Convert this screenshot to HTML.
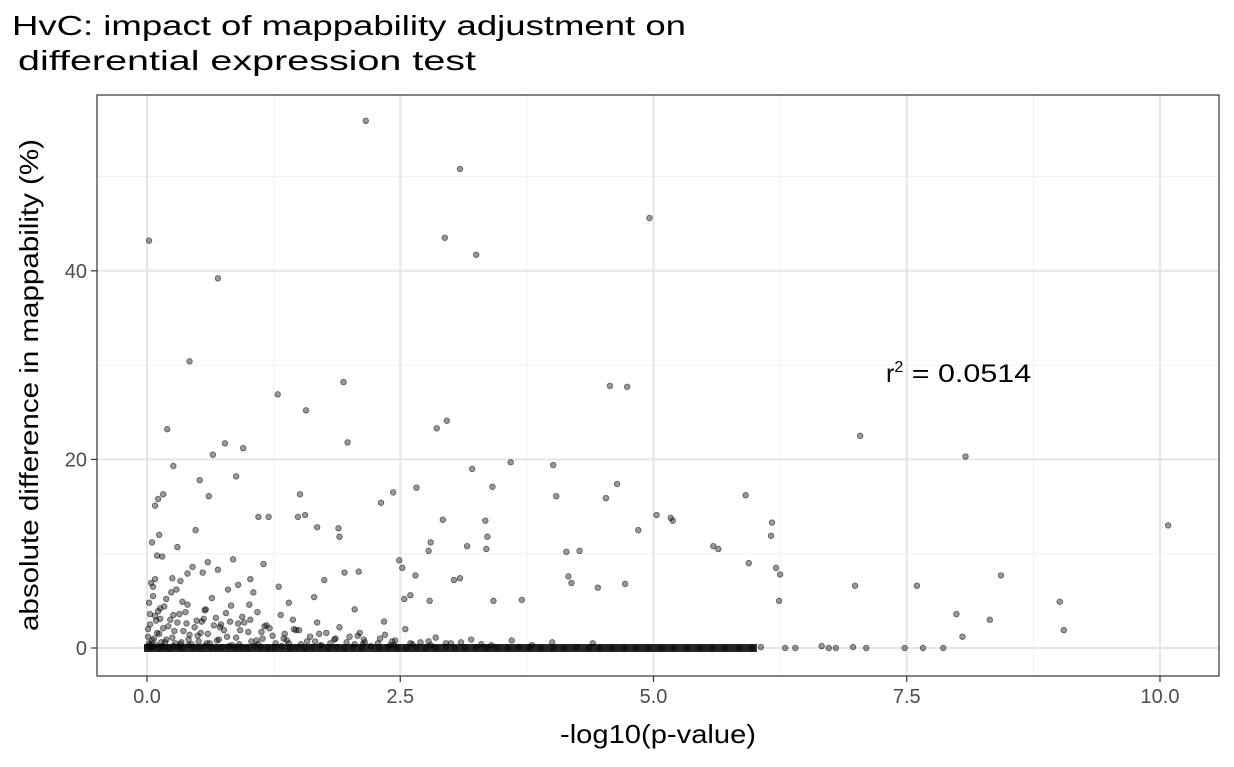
<!DOCTYPE html>
<html><head><meta charset="utf-8"><style>
body{margin:0;background:#fff;font-family:"Liberation Sans",Arial,sans-serif}
svg text{font-family:"Liberation Sans",Arial,sans-serif}
</style></head><body>
<svg id="chart" width="1234" height="762">
<text x="12" y="35" font-size="28" textLength="674" lengthAdjust="spacingAndGlyphs" fill="#000">HvC: impact of mappability adjustment on</text>
<text x="18" y="70" font-size="28" textLength="458" lengthAdjust="spacingAndGlyphs" fill="#000">differential expression test</text>
<g id="grid"></g>
<g id="pts"></g>
<rect x="97" y="95" width="1122" height="581" fill="none" stroke="#333" stroke-width="1.2"/>
<g id="axes"></g>
<text x="560" y="743" font-size="26" textLength="196" lengthAdjust="spacingAndGlyphs">-log10(p-value)</text>
<text transform="translate(38,631) rotate(-90)" font-size="26" textLength="492" lengthAdjust="spacingAndGlyphs">absolute difference in mappability (%)</text>
<text x="886" y="382" font-size="25">r<tspan dy="-10" font-size="16">2</tspan><tspan dy="10" textLength="128" lengthAdjust="spacingAndGlyphs"> = 0.0514</tspan></text>
</svg>
<script>
const xTicks=[0,2.5,5,7.5,10];
const xTickLabels=["0.0","2.5","5.0","7.5","10.0"];
const yTicks=[0,20,40];
const yTickLabels=["0","20","40"];
const outX=[2.16,3.09,4.96,0.02,2.94,3.25,0.70,0.42,1.29,1.94,1.57,2.96,2.86,1.98,0.77,0.95,0.65,0.20,0.26,3.59,3.21,4.01,4.57,4.74,7.04,8.08,10.08,0.52,0.11,0.16,1.51,2.43,2.66,3.41,4.04,4.53,4.64,5.17,5.19,5.03,5.91,6.17,6.16,5.59,5.64,4.27,4.14,3.34,3.36,3.16,3.35,2.92,2.80,2.78,2.31,1.89,1.90,1.68,1.49,1.56,1.10,1.20,0.61,0.48,0.08,0.88,4.85,5.94,6.21,6.25,6.24,6.99,7.60,8.43,7.99,8.05,8.32,9.01,9.05,4.72,4.45,4.16,4.19,3.70,3.42,1.95,2.09,2.49,2.52,2.65,3.03,3.09,2.79,2.54,2.34,0.05,0.10,0.30,0.55,0.85,1.02,1.15,0.33,0.60,0.90,1.40,1.75,2.05,2.60,0.12,0.40,0.70,1.30,1.65,0.04,0.15,0.25,0.45,0.80,1.05];
const outY=[55.9,50.8,45.6,43.2,43.5,41.7,39.2,30.4,26.9,28.2,25.2,24.1,23.3,21.8,21.7,21.2,20.5,23.2,19.3,19.7,19.0,19.4,27.8,27.7,22.5,20.3,13.0,17.8,15.8,16.3,16.3,16.5,17.0,17.1,16.1,15.9,17.4,13.8,13.5,14.1,16.2,13.3,11.9,10.8,10.5,10.3,10.2,13.5,11.8,10.8,10.5,13.6,11.2,10.3,15.4,12.7,11.8,12.8,13.9,14.1,13.9,13.9,16.1,12.5,15.1,18.2,12.5,9.0,8.5,7.8,5.0,6.6,6.6,7.7,3.6,1.2,3.0,4.9,1.9,6.8,6.4,7.6,6.9,5.1,5.0,8.0,8.1,9.3,8.5,7.7,7.2,7.4,5.0,5.2,2.8,11.2,9.8,10.7,8.0,9.4,7.3,8.9,7.1,9.1,6.7,4.8,7.2,4.1,5.6,12.0,7.9,8.3,6.5,5.4,6.9,9.7,7.4,8.6,6.2,5.9];
const bandX=[0.00,0.02,0.04,0.06,0.09,0.12,0.15,0.18,0.22,0.26,0.31,0.35,0.41,0.46,0.52,0.57,0.63,0.69,0.74,0.81,0.87,0.93,0.99,1.06,1.12,1.19,1.26,1.33,1.41,1.48,1.56,1.63,1.71,1.79,1.87,1.95,2.03,2.12,2.21,2.29,2.38,2.47,2.56,2.66,2.75,2.85,2.95,3.04,3.14,3.25,3.35,3.46,3.56,3.67,3.78,3.89,4.01,4.12,4.24,4.36,4.47,4.59,4.71,4.83,4.95,5.08,5.20,5.33,5.46,5.58,5.71,5.84,5.97,6.06,6.30,6.40,6.66,6.73,6.80,6.97,7.10,7.48,7.66,7.86];
const bandY=[0.1,0.2,0.0,0.1,0.3,0.0,0.2,0.1,0.0,0.2,0.1,0.0,0.3,0.1,0.0,0.2,0.1,0.0,0.1,0.2,0.0,0.1,0.0,0.2,0.1,0.0,0.1,0.2,0.0,0.1,0.0,0.1,0.2,0.0,0.1,0.0,0.1,0.0,0.2,0.0,0.1,0.0,0.0,0.1,0.0,0.0,0.1,0.0,0.0,0.1,0.0,0.0,0.0,0.1,0.0,0.0,0.0,0.0,0.1,0.0,0.0,0.0,0.0,0.0,0.0,0.0,0.0,0.0,0.0,0.0,0.0,0.0,0.0,0.1,0.0,0.0,0.2,0.0,0.0,0.1,0.0,0.0,0.0,0.0];
const blobX=[0.01,0.03,0.05,0.08,0.10,0.13,0.16,0.19,0.23,0.27,0.30,0.34,0.38,0.42,0.47,0.51,0.56,0.60,0.66,0.71,0.76,0.82,0.88,0.94,1.00,1.08,1.16,1.24,1.35,1.45,1.58,1.70,1.85,2.00,2.15,2.30,2.45,2.60,2.78,2.95,3.10,3.30,0.02,0.06,0.11,0.17,0.24,0.32,0.40,0.49,0.58,0.68,0.78,0.90,1.02,1.18,1.32,1.50,1.68,1.90,2.10,2.35,2.55,2.85,3.20,3.60,4.00,4.40,0.04,0.14,0.28,0.44,0.62,0.84,1.10,1.40,1.72,2.05,2.40,2.80,
0.02,0.07,0.12,0.18,0.25,0.33,0.41,0.50,0.59,0.69,0.79,0.91,1.03,1.14,1.27,1.38,1.52,1.66,1.81,1.97,2.13,2.28,2.44,2.62,0.01,0.09,0.21,0.36,0.53,0.72,0.92,1.13,1.36,1.61,1.86,2.14,2.42,2.70,3.00,3.40,3.80,0.03,0.13,0.26,0.39,0.54,0.73,0.96,1.21,1.47,1.77,2.08,0.06,0.19,0.35,0.57,0.83,1.09,1.44,0.08,0.29,0.64,1.01];
const blobY=[1.2,2.5,0.8,3.4,1.6,4.2,2.1,0.9,3.0,1.8,2.7,0.6,3.8,1.4,2.2,0.7,3.1,1.5,2.4,0.9,1.9,2.8,1.1,3.3,1.7,0.8,2.3,1.3,1.0,2.0,0.7,1.5,0.9,1.2,0.6,1.0,0.8,0.5,0.7,0.5,0.6,0.4,4.8,5.5,3.9,4.4,5.9,3.6,4.6,2.9,4.1,3.2,3.7,2.6,3.0,2.4,3.5,1.9,2.7,2.2,1.6,1.4,2.0,1.1,0.9,0.8,0.6,0.5,0.4,0.6,0.5,0.4,0.5,0.3,0.4,0.5,0.3,0.4,0.3,0.3,
0.5,1.0,1.5,0.6,1.1,0.4,0.9,1.3,0.5,0.8,1.2,0.4,0.7,1.0,0.5,0.8,0.4,0.7,0.5,0.6,0.4,0.5,0.3,0.4,2.0,2.9,2.3,1.8,1.6,2.2,1.9,1.7,1.5,1.2,1.0,0.9,0.7,0.6,0.5,0.3,0.3,3.6,3.1,3.5,2.6,2.8,2.5,2.7,2.1,1.9,1.6,1.3,6.5,5.2,4.9,4.0,4.5,3.8,3.0,7.3,6.2,5.3,4.6];
const NS="http://www.w3.org/2000/svg";
const sx=v=>147+v*101.3, sy=v=>648-v*9.43;
const grid=document.getElementById('grid'),axes=document.getElementById('axes'),pts=document.getElementById('pts');
function mk(t,a,p){const e=document.createElementNS(NS,t);for(const k in a)e.setAttribute(k,a[k]);p.appendChild(e);return e;}
[1.25,3.75,6.25,8.75].forEach(v=>{const l=mk('line',{x1:sx(v),x2:sx(v),y1:95,y2:676,stroke:'#f0f0f0','stroke-width':1},grid);

});
[10,30,50].forEach(v=>{const l=mk('line',{x1:97,x2:1219,y1:sy(v),y2:sy(v),stroke:'#f0f0f0','stroke-width':1},grid);

});
xTicks.forEach((v,i)=>{const l=mk('line',{x1:sx(v),x2:sx(v),y1:95,y2:676,stroke:'#e6e6e6','stroke-width':2},grid);


mk('line',{x1:sx(v),x2:sx(v),y1:676,y2:682,stroke:'#333','stroke-width':1.2},axes);
const t=mk('text',{x:sx(v),y:703,'font-size':20,fill:'#4d4d4d','text-anchor':'middle'},axes);t.textContent=xTickLabels[i];

});
yTicks.forEach((v,i)=>{const l=mk('line',{x1:97,x2:1219,y1:sy(v),y2:sy(v),stroke:'#e6e6e6','stroke-width':2},grid);


mk('line',{x1:91,x2:97,y1:sy(v),y2:sy(v),stroke:'#333','stroke-width':1.2},axes);
const t=mk('text',{x:87,y:sy(v)+7,'font-size':20,fill:'#4d4d4d','text-anchor':'end'},axes);t.textContent=yTickLabels[i];

});
function plot(X,Y){X.forEach((x,i)=>{if(Y[i]===undefined)return;const c=mk('circle',{cx:sx(x),cy:sy(Y[i]),r:2.8,fill:'rgba(0,0,0,0.4)',stroke:'rgba(0,0,0,0.55)','stroke-width':0.8},pts);

});}
plot(bandX,bandY);
const l2=mk('rect',{x:sx(0)-3,y:sy(0)-4,width:sx(6.05)-sx(0),height:8,fill:'rgba(0,0,0,0.85)'},pts);


plot(blobX,blobY);plot(outX,outY);
</script>
</body></html>
